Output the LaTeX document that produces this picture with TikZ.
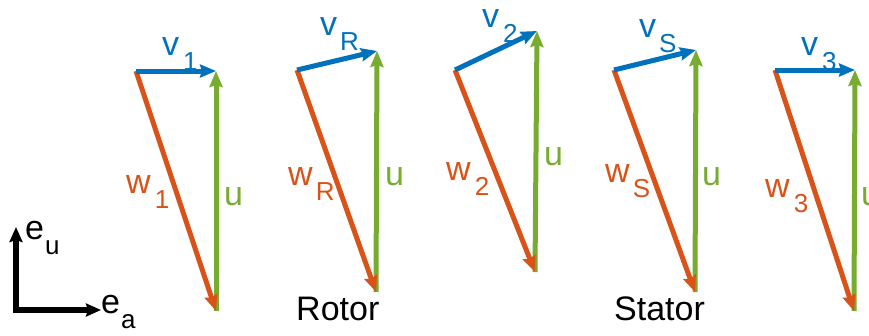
\documentclass[tikz,border=0pt]{standalone}
\usepackage{fontspec}
\setmainfont{Liberation Sans}
\usetikzlibrary{arrows.meta}
\definecolor{vblue}{HTML}{0072BD}
\definecolor{worange}{HTML}{D95319}
\definecolor{ugreen}{HTML}{77AC30}
\newcommand{\lowsub}[3]{#1\hspace{#3}\raisebox{-15pt}{\fontsize{26}{28}\selectfont #2}}

\begin{document}
\begin{tikzpicture}[x=1pt,y=-1pt,
  vec/.style={line width=5pt,-{Stealth[length=16pt,width=13pt,inset=2pt]}},
  vv/.style={vec,draw=vblue},
  ww/.style={vec,draw=worange},
  uu/.style={vec,draw=ugreen},
  lbl/.style={anchor=base west,inner sep=0pt,font=\fontsize{34}{36}\selectfont},
  ax/.style={line width=5.5pt,{Stealth[length=15pt,width=13pt,inset=2pt]}-{Stealth[length=15pt,width=13pt,inset=2pt]}}
]
\useasboundingbox (0,0) rectangle (869,335);

% axes
\coordinate (o) at (16,310);
\coordinate (eu) at (16,227);
\coordinate (ea) at (101,310);
\draw[ax] (eu) -- (o) -- (ea);
\node[lbl] (leu) at (25,239) {\lowsub{e}{u}{1pt}};
\node[lbl] (lea) at (101,313) {\lowsub{e}{a}{1pt}};

% inlet
\coordinate (t1) at (136,71);
\coordinate (h1) at (216,71);
\coordinate (b1) at (216,311);
\draw[uu] (b1) -- (h1);
\draw[ww] (t1) -- (b1);
\draw[vv] (t1) -- (h1);
\node[lbl,text=vblue] (lv1) at (162,55) {\lowsub{v}{1}{4pt}};
\node[lbl,text=worange] (lw1) at (126,193) {\lowsub{w}{1}{4pt}};
\node[lbl,text=ugreen] (lu1) at (224,205) {u};

% rotor
\coordinate (tR) at (297,70);
\coordinate (hR) at (377,51);
\coordinate (bR) at (376,292);
\draw[uu] (bR) -- (hR);
\draw[ww] (tR) -- (bR);
\draw[vv] (tR) -- (hR);
\node[lbl,text=vblue] (lvR) at (320,35) {\lowsub{v}{R}{3pt}};
\node[lbl,text=worange] (lwR) at (288,185) {\lowsub{w}{R}{3pt}};
\node[lbl,text=ugreen] (luR) at (385,185) {u};
\node[lbl] (rotor) at (296,320) {Rotor};

% between
\coordinate (t2) at (455,70);
\coordinate (h2) at (537,31);
\coordinate (b2) at (535,272);
\draw[uu] (b2) -- (h2);
\draw[ww] (t2) -- (b2);
\draw[vv] (t2) -- (h2);
\node[lbl,text=vblue] (lv2) at (482,27) {\lowsub{v}{2}{4pt}};
\node[lbl,text=worange] (lw2) at (446,180) {\lowsub{w}{2}{4pt}};
\node[lbl,text=ugreen] (lu2) at (544,165) {u};

% stator
\coordinate (tS) at (614,70);
\coordinate (hS) at (696,50);
\coordinate (bS) at (695,292);
\draw[uu] (bS) -- (hS);
\draw[ww] (tS) -- (bS);
\draw[vv] (tS) -- (hS);
\node[lbl,text=vblue] (lvS) at (639,37) {\lowsub{v}{S}{3pt}};
\node[lbl,text=worange] (lwS) at (605,182) {\lowsub{w}{S}{3pt}};
\node[lbl,text=ugreen] (luS) at (702,185) {u};
\node[lbl] (stator) at (614,320) {Stator};

% outlet
\coordinate (t3) at (775,70);
\coordinate (h3) at (855,70);
\coordinate (b3) at (854,311);
\draw[uu] (b3) -- (h3);
\draw[ww] (t3) -- (b3);
\draw[vv] (t3) -- (h3);
\node[lbl,text=vblue] (lv3) at (801,55) {\lowsub{v}{3}{4pt}};
\node[lbl,text=worange] (lw3) at (765,197) {\lowsub{w}{3}{4pt}};
\node[lbl,text=ugreen] (lu3) at (861,205) {u};
\end{tikzpicture}
\end{document}
